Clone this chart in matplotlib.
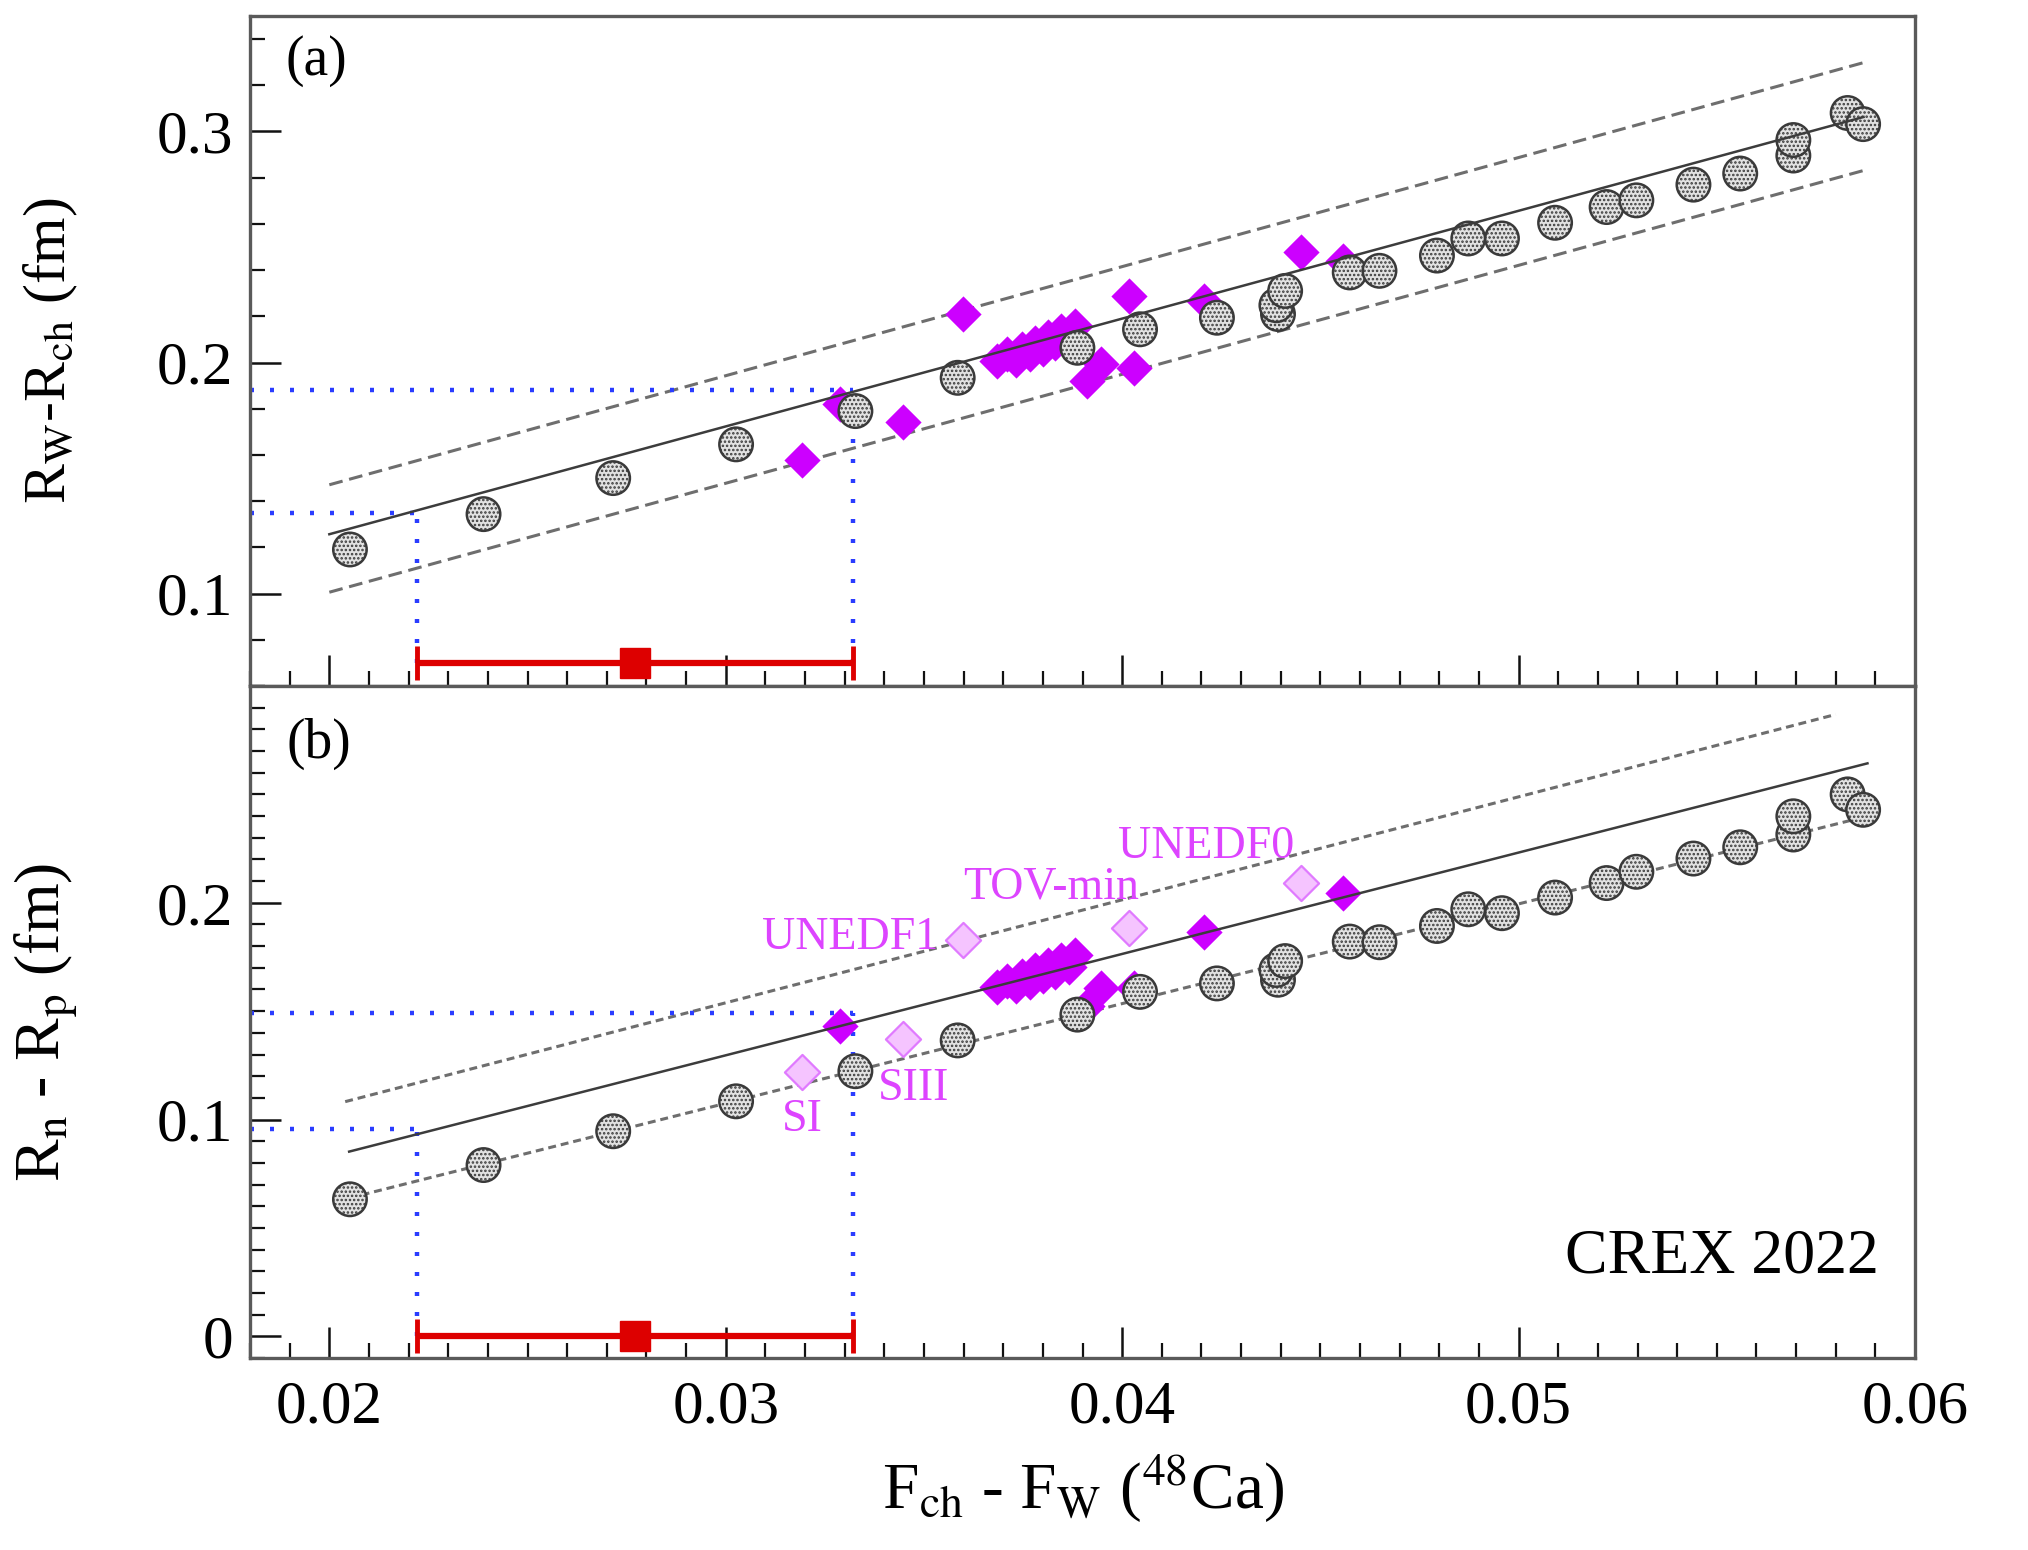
import numpy as np
import matplotlib.pyplot as plt
from matplotlib.path import Path
from matplotlib.ticker import MultipleLocator, FixedLocator, FuncFormatter

plt.rcParams['font.family'] = ['Liberation Serif', 'DejaVu Serif']
plt.rcParams['mathtext.fontset'] = 'stix'
plt.rcParams['hatch.color'] = '#8c8c8c'
plt.rcParams['hatch.linewidth'] = 1.2

# relativistic (RMF) models: F_ch - F_W, R_W - R_ch, R_n - R_p
rmf_f = [0.02052, 0.02389, 0.02716, 0.03026, 0.03327, 0.03585, 0.03887, 0.04045,
         0.04239, 0.04393, 0.04389, 0.04411, 0.04574, 0.04649, 0.04794, 0.04873,
         0.04958, 0.05092, 0.05222, 0.05297, 0.05441, 0.05559, 0.05693, 0.05693,
         0.05830, 0.05869]
rmf_rw = [0.1191, 0.1344, 0.1500, 0.1646, 0.1790, 0.1934, 0.2064, 0.2144,
          0.2194, 0.2210, 0.2248, 0.2310, 0.2390, 0.2397, 0.2463, 0.2537,
          0.2537, 0.2605, 0.2673, 0.2702, 0.2770, 0.2818, 0.2896, 0.2963,
          0.3080, 0.3032]
rmf_rnp = [0.0632, 0.0790, 0.0946, 0.1084, 0.1223, 0.1365, 0.1484, 0.1589,
           0.1628, 0.1645, 0.1690, 0.1731, 0.1821, 0.1818, 0.1893, 0.1970,
           0.1952, 0.2024, 0.2091, 0.2143, 0.2204, 0.2256, 0.2315, 0.2399,
           0.2500, 0.2429]

# non-relativistic (Skyrme) models
sky_f = [0.03289, 0.03683, 0.03709, 0.03732, 0.03748, 0.03768, 0.03781, 0.03801,
         0.03814, 0.03830, 0.03846, 0.03866, 0.03882, 0.03910, 0.03946, 0.04029,
         0.04207, 0.04557]
sky_rw = [0.1820, 0.2005, 0.2035, 0.2010, 0.2060, 0.2035, 0.2085, 0.2060,
          0.2110, 0.2085, 0.2135, 0.2110, 0.2160, 0.1919, 0.1992, 0.1978,
          0.2267, 0.2441]
sky_rnp = [0.1433, 0.1612, 0.1640, 0.1615, 0.1662, 0.1635, 0.1688, 0.1660,
           0.1712, 0.1680, 0.1735, 0.1705, 0.1760, 0.1525, 0.1608, 0.1608,
           0.1865, 0.2043]

# Skyrme models singled out in panel (b)
named = ['SI', 'SIII', 'UNEDF1', 'TOV-min', 'UNEDF0']
named_f = [0.03192, 0.03448, 0.03598, 0.04018, 0.04451]
named_rw = [0.1578, 0.1742, 0.2212, 0.2287, 0.2478]
named_rnp = [0.1217, 0.1371, 0.1830, 0.1885, 0.2091]

# CREX measurement
crex_f = 0.0277
crex_err = 0.0055
rw_band = [0.1348, 0.1882]
rnp_band = [0.0957, 0.1491]

# linear fits: (intercept, slope, f_min, f_max)
fits_a = {'solid': (0.03238, 4.666, 0.0200, 0.0587),
          'upper': (0.05268, 4.721, 0.0200, 0.0587),
          'lower': (0.00628, 4.716, 0.0200, 0.0587)}
fits_b = {'solid': (-0.01068, 4.677, 0.0205, 0.0588),
          'upper': (0.01133, 4.751, 0.0204, 0.0580),
          'lower': (-0.03052, 4.600, 0.0205, 0.0590)}

diamond = Path([(0, 1), (1, 0), (0, -1), (-1, 0), (0, 1)], closed=True)
magenta = '#cc00ff'
label_col = '#dd44ff'
blue = '#2a3cff'
red = '#dd0000'

fig = plt.figure(figsize=(20.28, 15.5), dpi=100)
ax_a = fig.add_axes([0.1233, 0.5574, 0.821, 0.4323])
ax_b = fig.add_axes([0.1233, 0.1239, 0.821, 0.4335], sharex=ax_a)


def draw_fits(ax, fits, dash_on, dash_off):
    for key, (b0, b1, f0, f1) in fits.items():
        xx = np.array([f0, f1])
        if key == 'solid':
            ax.plot(xx, b0 + b1 * xx, color='#3c3c3c', lw=1.8, zorder=5)
        else:
            ax.plot(xx, b0 + b1 * xx, color='#6e6e6e', lw=2.2,
                    dashes=(dash_on, dash_off), zorder=1)


def draw_crex(ax, band, bar_y):
    lo, hi = crex_f - crex_err, crex_f + crex_err
    dots = dict(color=blue, lw=3.2, dashes=(0.9, 3.6), zorder=2)
    ax.plot([0.018, lo], [band[0], band[0]], **dots)
    ax.plot([0.018, hi], [band[1], band[1]], **dots)
    ax.plot([lo, lo], [bar_y, band[0]], **dots)
    ax.plot([hi, hi], [bar_y, band[1]], **dots)
    ax.errorbar([crex_f], [bar_y], xerr=[crex_err], fmt='s', color=red,
                ms=21, lw=4.5, capsize=12, capthick=3.5, zorder=6)


def draw_models(ax, rmf_y, sky_y):
    ax.scatter(sky_f, sky_y, s=680, marker=diamond, color=magenta,
               linewidths=0, zorder=3)
    ax.scatter(rmf_f, rmf_y, s=580, marker='o', facecolor='#e2e2e2',
               edgecolor='#3a3a3a', linewidths=1.8, hatch='....', zorder=4)


# panel (a): weak-charge radius difference
draw_fits(ax_a, fits_a, 4.5, 2.2)
draw_crex(ax_a, rw_band, 0.07)
draw_models(ax_a, rmf_rw, sky_rw)
ax_a.scatter(named_f, named_rw, s=680, marker=diamond, color=magenta,
             linewidths=0, zorder=3)

# panel (b): neutron skin
draw_fits(ax_b, fits_b, 2.6, 1.6)
draw_crex(ax_b, rnp_band, 0.0)
draw_models(ax_b, rmf_rnp, sky_rnp)
ax_b.scatter(named_f, named_rnp, s=640, marker=diamond, facecolor='#f5c4ff',
             edgecolor='#e07aff', linewidths=1.6, zorder=3)

offsets = {'SI': ((0, -34), 'center', 'center'),
           'SIII': ((7, -36), 'center', 'center'),
           'UNEDF1': ((-18, 1), 'right', 'center'),
           'TOV-min': ((7, 14), 'right', 'bottom'),
           'UNEDF0': ((-5, 11), 'right', 'bottom')}
for name, f, r in zip(named, named_f, named_rnp):
    off, ha, va = offsets[name]
    ax_b.annotate(name, (f, r), xytext=off, textcoords='offset points',
                  ha=ha, va=va, color=label_col, fontsize=33, zorder=7)

# axes styling
ax_a.set_xlim(0.018, 0.06)
ax_a.set_ylim(0.06, 0.35)
ax_b.set_ylim(-0.01, 0.3)

ax_a.xaxis.set_major_locator(MultipleLocator(0.01))
ax_a.xaxis.set_minor_locator(MultipleLocator(0.001))
ax_a.yaxis.set_major_locator(FixedLocator([0.1, 0.2, 0.3]))
ax_a.yaxis.set_minor_locator(MultipleLocator(0.02))
ax_b.yaxis.set_major_locator(FixedLocator([0.0, 0.1, 0.2]))
ax_b.yaxis.set_minor_locator(MultipleLocator(0.01))

fmt = FuncFormatter(lambda v, pos: '%g' % round(v, 4))
for ax in (ax_a, ax_b):
    ax.tick_params(which='both', direction='in', top=False, right=False,
                   color='#111111', labelsize=44)
    ax.tick_params(which='major', length=22, width=1.8, pad=12)
    ax.tick_params(which='minor', length=11, width=1.6)
    ax.xaxis.set_major_formatter(fmt)
    ax.yaxis.set_major_formatter(fmt)
    for sp in ax.spines.values():
        sp.set_color('#5a5a5a')
        sp.set_linewidth(2.4)
ax_a.tick_params(labelbottom=False)
ax_b.tick_params(axis='x', pad=16)

ax_a.set_ylabel(r'R$_\mathrm{W}$-R$_\mathrm{ch}$ (fm)', fontsize=43)
ax_b.set_ylabel(r'R$_\mathrm{n}$ - R$_\mathrm{p}$ (fm)', fontsize=46)
ax_b.set_xlabel(r'F$_\mathrm{ch}$ - F$_\mathrm{W}$ ($^{48}$Ca)', fontsize=47)
ax_a.yaxis.set_label_coords(-0.102, 0.5)
ax_b.yaxis.set_label_coords(-0.102, 0.5)
ax_b.xaxis.set_label_coords(0.5, -0.14)

ax_a.text(0.021, 0.972, '(a)', transform=ax_a.transAxes, ha='left',
          va='top', fontsize=40)
ax_b.text(0.022, 0.953, '(b)', transform=ax_b.transAxes, ha='left',
          va='top', fontsize=40)
ax_b.text(0.978, 0.15, 'CREX 2022', transform=ax_b.transAxes, ha='right',
          va='center', fontsize=46)

fig.savefig('out.png', dpi=100)
